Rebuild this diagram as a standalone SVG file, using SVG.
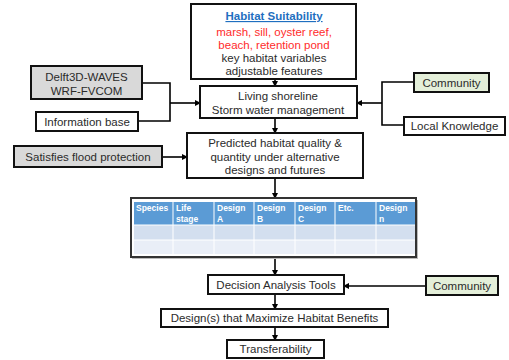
<svg xmlns="http://www.w3.org/2000/svg" width="509" height="360" viewBox="0 0 509 360">
<defs>
<marker id="ah" markerWidth="6" markerHeight="6" refX="5" refY="3" orient="auto" markerUnits="userSpaceOnUse">
<path d="M0,0 L6,3 L0,6 Z" fill="#000"/>
</marker>
</defs>
<style>
.box{fill:#fff;stroke:#111;stroke-width:2}
.gray{fill:#d9d9d9;stroke:#111;stroke-width:2}
.green{fill:#e4efd9;stroke:#111;stroke-width:2}
.t{font-family:"Liberation Sans",Arial,sans-serif;font-size:11.5px;fill:#2b2b2b;text-anchor:middle}
.red{fill:#ff2b2b}
.h{fill:#1f6fc0;font-weight:bold;text-decoration:underline}
.th{font-family:"Liberation Sans",Arial,sans-serif;font-size:8.5px;font-weight:bold;fill:#fff}
.c{fill:none;stroke:#000;stroke-width:1.6}
.ca{fill:none;stroke:#000;stroke-width:1.6;marker-end:url(#ah)}
</style>
<rect width="509" height="360" fill="#fff"/>
<g id="connectors">
<path class="ca" d="M275,79 V86"/>
<path class="ca" d="M275,118 V133"/>
<path class="ca" d="M275,178 V198"/>
<path class="ca" d="M275,257 V275"/>
<path class="ca" d="M275,294 V309"/>
<path class="ca" d="M275,327 V340"/>
<path class="c" d="M142,83 H170 V121 H138"/>
<path class="ca" d="M170,103 H200"/>
<path class="ca" d="M162,157 H187"/>
<path class="c" d="M414,82 H382 V125 H404"/>
<path class="ca" d="M382,103 H357"/>
<path class="ca" d="M426,286 H344"/>
</g>
<g id="habitat">
<rect class="box" x="191" y="4" width="165" height="75"/>
<text class="t h" x="274" y="20">Habitat Suitability</text>
<text class="t red" x="274" y="36">marsh, sill, oyster reef,</text>
<text class="t red" x="274" y="49">beach, retention pond</text>
<text class="t" x="274" y="62">key habitat variables</text>
<text class="t" x="274" y="75">adjustable features</text>
</g>
<g id="delft">
<rect class="gray" x="31" y="66" width="111" height="33"/>
<text class="t" x="86.5" y="81">Delft3D-WAVES</text>
<text class="t" x="86.5" y="95">WRF-FVCOM</text>
</g>
<g id="info">
<rect class="box" x="36" y="112" width="102" height="19"/>
<text class="t" x="87" y="126">Information base</text>
</g>
<g id="flood">
<rect class="gray" x="14" y="146" width="148" height="21"/>
<text class="t" x="88" y="161">Satisfies flood protection</text>
</g>
<g id="living">
<rect class="box" x="200" y="86" width="157" height="32"/>
<text class="t" x="278" y="100">Living shoreline</text>
<text class="t" x="278" y="114">Storm water management</text>
</g>
<g id="community1">
<rect class="green" x="414" y="73" width="75" height="19"/>
<text class="t" x="451.5" y="87">Community</text>
</g>
<g id="local">
<rect class="box" x="404" y="117" width="101" height="18"/>
<text class="t" x="454.5" y="130">Local Knowledge</text>
</g>
<g id="predicted">
<rect class="box" x="187" y="133" width="176" height="45"/>
<text class="t" x="275" y="147">Predicted habitat quality &amp;</text>
<text class="t" x="275" y="161">quantity under alternative</text>
<text class="t" x="275" y="174">designs and futures</text>
</g>
<g id="table">
<rect x="132" y="200" width="286" height="59" fill="#bbb"/>
<rect x="131" y="198" width="285" height="59" fill="#fff" stroke="#333" stroke-width="2"/>
<rect x="134" y="202" width="281" height="23" fill="#5b9bd5"/>
<rect x="134" y="225" width="281" height="15" fill="#d3dfef"/>
<rect x="134" y="240" width="281" height="14" fill="#e9eef7"/>
<g stroke="#fff" stroke-width="1">
<path d="M173,202 V254 M214,202 V254 M254,202 V254 M295,202 V254 M335,202 V254 M376,202 V254 M134,240 H415 M134,225 H415"/>
</g>
<text class="th" x="136" y="211">Species</text>
<text class="th" x="176" y="211">Life</text>
<text class="th" x="176" y="222">stage</text>
<text class="th" x="217" y="211">Design</text>
<text class="th" x="217" y="222">A</text>
<text class="th" x="257" y="211">Design</text>
<text class="th" x="257" y="222">B</text>
<text class="th" x="298" y="211">Design</text>
<text class="th" x="298" y="222">C</text>
<text class="th" x="338" y="211">Etc.</text>
<text class="th" x="379" y="211">Design</text>
<text class="th" x="379" y="222">n</text>
</g>
<g id="decision">
<rect class="box" x="208" y="275" width="136" height="19"/>
<text class="t" x="276" y="289">Decision Analysis Tools</text>
</g>
<g id="community2">
<rect class="green" x="426" y="276" width="72" height="19"/>
<text class="t" x="462" y="290">Community</text>
</g>
<g id="designs">
<rect class="box" x="161" y="309" width="227" height="18"/>
<text class="t" x="274.5" y="322">Design(s) that Maximize Habitat Benefits</text>
</g>
<g id="transfer">
<rect class="box" x="227" y="340" width="97" height="18"/>
<text class="t" x="275.5" y="353">Transferability</text>
</g>
</svg>
